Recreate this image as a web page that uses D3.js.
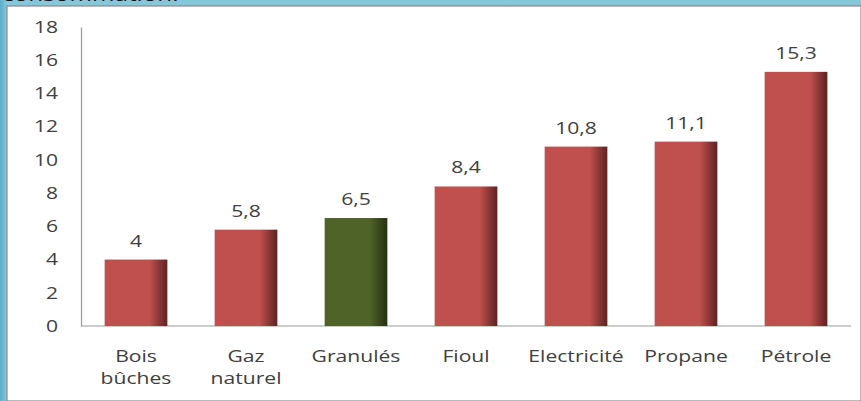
<!DOCTYPE html>
<html>
<head>
<meta charset="utf-8">
<script src="https://cdn.jsdelivr.net/npm/d3@7"></script>
<style>
  html, body { margin: 0; padding: 0; background: #ffffff; }
  svg { display: block; }
</style>
</head>
<body>
<svg id="chart"></svg>
<script>
const categories = [['Bois', 'bûches'], ['Gaz', 'naturel'], ['Granulés'], ['Fioul'], ['Electricité'], ['Propane'], ['Pétrole']];
const values = [4, 5.8, 6.5, 8.4, 10.8, 11.1, 15.3];
const valueLabels = ['4', '5,8', '6,5', '8,4', '10,8', '11,1', '15,3'];
const highlight = [false, false, true, false, false, false, false];
const yTicks = [0, 2, 4, 6, 8, 10, 12, 14, 16, 18];

const width = 861;
const height = 401;
const font = "'Open Sans', 'DejaVu Sans', sans-serif";
const fontSize = 16.5;
const stretch = 1.28; // the picture is a bit wider than tall

const svg = d3.select('#chart').
  attr('width', width).
  attr('height', height);

const defs = svg.append('defs');

// blue frame round the slide
const frameGrad = defs.append('linearGradient').
  attr('id', 'frame').
  attr('x1', 0).attr('y1', 0).attr('x2', 0).attr('y2', 1);
frameGrad.append('stop').attr('offset', '0%').attr('stop-color', '#86c6d9');
frameGrad.append('stop').attr('offset', '100%').attr('stop-color', '#7cc0d6');

const leftGrad = defs.append('linearGradient').
  attr('id', 'leftband').
  attr('x1', 0).attr('y1', 0).attr('x2', 1).attr('y2', 0);
leftGrad.append('stop').attr('offset', '0%').attr('stop-color', '#5aaecb');
leftGrad.append('stop').attr('offset', '100%').attr('stop-color', '#8ccadc');

function barGradient(id, base, dark) {
  const g = defs.append('linearGradient').
    attr('id', id).
    attr('x1', 0).attr('y1', 0).attr('x2', 1).attr('y2', 0);
  g.append('stop').attr('offset', '0%').attr('stop-color', base);
  g.append('stop').attr('offset', '72%').attr('stop-color', base);
  g.append('stop').attr('offset', '100%').attr('stop-color', dark);
}
barGradient('red', '#c0504d', '#5c2221');
barGradient('green', '#4f6228', '#263012');

svg.append('rect').
  attr('width', width).attr('height', height).
  attr('fill', 'url(#frame)');
svg.append('rect').
  attr('width', 8).attr('height', height).
  attr('fill', 'url(#leftband)');

svg.append('text').
  attr('transform', 'translate(2,1) scale(' + stretch + ',1)').
  attr('font-family', font).
  attr('font-size', 19).
  attr('fill', '#111').
  text('consommation.');

svg.append('rect').
  attr('x', 7).attr('y', 6).
  attr('width', width - 7).attr('height', height - 6).
  attr('fill', '#ffffff').
  attr('stroke', '#8a8a8a').
  attr('stroke-width', 1.2);

const x0 = 81, x1 = 851, yTop = 27, yBase = 326;

const x = d3.scaleBand().
  domain(d3.range(values.length)).
  range([x0, x1]).
  paddingInner(0.43).
  paddingOuter(0.215);

const y = d3.scaleLinear().
  domain([0, 18]).
  range([yBase, yTop]);

const yAxis = svg.append('g').
  attr('transform', 'translate(' + x0 + ',0)').
  call(d3.axisLeft(y).tickValues(yTicks).tickSize(0).tickPadding(23).tickFormat(d3.format('d')));
yAxis.select('.domain').attr('stroke', '#9a9a9a').attr('stroke-width', 1.2);
yAxis.selectAll('text').
  attr('x', -23 / stretch).
  attr('transform', 'scale(' + stretch + ',1)').
  attr('font-family', font).
  attr('font-size', fontSize).
  attr('fill', '#404040');

svg.append('line').
  attr('x1', x0).attr('x2', x1).
  attr('y1', yBase).attr('y2', yBase).
  attr('stroke', '#9a9a9a').
  attr('stroke-width', 1.2);

svg.selectAll('.bar').
  data(values).
  enter().
  append('rect').
  attr('class', 'bar').
  attr('x', (d, i) => x(i)).
  attr('y', d => y(d)).
  attr('width', x.bandwidth()).
  attr('height', d => yBase - y(d)).
  attr('fill', (d, i) => highlight[i] ? 'url(#green)' : 'url(#red)');

svg.selectAll('.value').
  data(values).
  enter().
  append('text').
  attr('class', 'value').
  attr('transform', (d, i) =>
    'translate(' + (x(i) + x.bandwidth() / 2) + ',' + (y(d) - 13) + ') scale(' + stretch + ',1)').
  attr('text-anchor', 'middle').
  attr('font-family', font).
  attr('font-size', fontSize).
  attr('fill', '#404040').
  text((d, i) => valueLabels[i]);

const catText = svg.selectAll('.cat').
  data(categories).
  enter().
  append('text').
  attr('class', 'cat').
  attr('transform', (d, i) =>
    'translate(' + (x(i) + x.bandwidth() / 2) + ',362) scale(' + stretch + ',1)').
  attr('text-anchor', 'middle').
  attr('font-family', font).
  attr('font-size', fontSize).
  attr('fill', '#404040');

catText.selectAll('tspan').
  data(d => d).
  enter().
  append('tspan').
  attr('x', 0).
  attr('y', (d, j) => 22 * j).
  text(d => d);
</script>
</body>
</html>
